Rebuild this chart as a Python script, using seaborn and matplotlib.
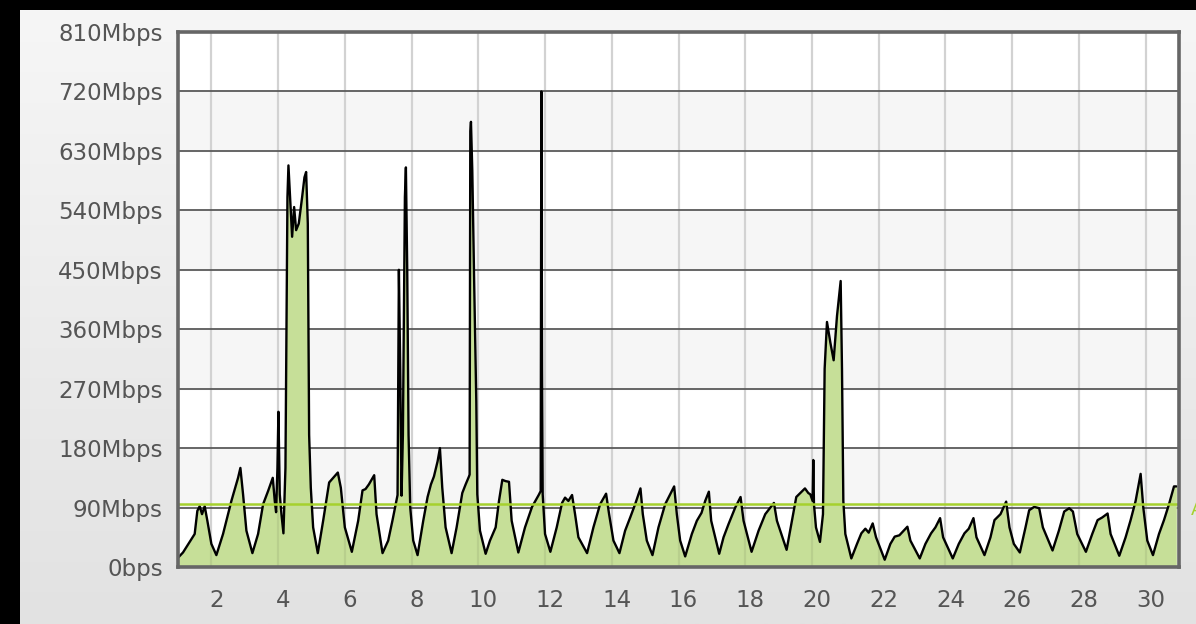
import seaborn as sns
import matplotlib.pyplot as plt
import numpy as np
from matplotlib.colors import LinearSegmentedColormap
from matplotlib.transforms import ScaledTranslation

# traffic samples: time in days of the month, rate in Mbps
t_day = [
    1.00, 1.15, 1.35, 1.50, 1.58, 1.65, 1.72, 1.80, 1.88, 2.00, 2.15,
    2.35, 2.60, 2.80, 2.87, 2.95, 3.05, 3.23,
    3.40, 3.55, 3.70, 3.84, 3.90, 3.94, 3.98, 4.01, 4.05, 4.10, 4.16,
    4.22, 4.28, 4.31, 4.36, 4.42, 4.48, 4.54, 4.62, 4.72, 4.79, 4.84, 4.89, 4.93, 4.98, 5.05, 5.19,
    5.35, 5.53, 5.65, 5.79, 5.88, 6.00, 6.21,
    6.40, 6.53, 6.62, 6.72, 6.88, 6.95, 7.13,
    7.30, 7.43, 7.58, 7.62, 7.66, 7.70, 7.74, 7.80, 7.83, 7.87, 7.91, 7.96, 8.05, 8.18,
    8.35, 8.48, 8.58, 8.67, 8.78, 8.85, 8.92, 9.02, 9.20,
    9.35, 9.52, 9.62, 9.72, 9.74, 9.76, 9.78, 9.82, 9.88, 9.94, 9.97, 10.05, 10.22,
    10.35, 10.52, 10.62, 10.72, 10.82, 10.92, 11.00, 11.20,
    11.40, 11.61, 11.81, 11.87, 11.89, 11.91, 11.93, 12.00, 12.16,
    12.35, 12.51, 12.60, 12.70, 12.81, 12.90, 13.00, 13.26,
    13.45, 13.65, 13.83, 13.92, 14.05, 14.23,
    14.40, 14.56, 14.70, 14.86, 14.93, 15.05, 15.22,
    15.40, 15.60, 15.87, 15.95, 16.05, 16.20,
    16.40, 16.55, 16.69, 16.80, 16.91, 16.98, 17.22,
    17.35, 17.50, 17.70, 17.86, 17.95, 18.19,
    18.40, 18.60, 18.86, 18.95, 19.24,
    19.40, 19.53, 19.65, 19.79, 19.89, 19.95, 20.02, 20.04, 20.06, 20.12, 20.24,
    20.33, 20.38, 20.45, 20.55, 20.65, 20.75, 20.86, 20.90, 20.94, 21.00, 21.18,
    21.35, 21.48, 21.60, 21.70, 21.82, 21.92, 22.18,
    22.35, 22.48, 22.62, 22.75, 22.86, 22.95, 23.23,
    23.40, 23.57, 23.70, 23.84, 23.93, 24.22,
    24.40, 24.57, 24.70, 24.84, 24.93, 25.17,
    25.35, 25.47, 25.65, 25.82, 25.92, 26.05, 26.23,
    26.40, 26.51, 26.66, 26.81, 26.92, 27.21,
    27.40, 27.56, 27.71, 27.82, 27.95, 28.21,
    28.40, 28.56, 28.70, 28.86, 28.95, 29.21,
    29.40, 29.55, 29.70, 29.85, 29.93, 30.05, 30.22,
    30.40, 30.55, 30.70, 30.85, 30.92,
]
rate_mbps = [
    14, 22, 38, 50, 85, 92, 80, 92, 70, 35, 18,
    50, 100, 135, 150, 110, 55, 21,
    50, 95, 115, 135, 100, 83, 150, 235, 110, 80, 51,
    150, 560, 608, 560, 500, 545, 510, 520, 560, 590, 598, 520, 200, 120, 60, 21,
    70, 128, 135, 143, 120, 60, 23,
    70, 116, 118, 125, 139, 80, 21,
    40, 71, 109, 450, 300, 108, 200, 560, 605, 450, 200, 90, 40, 18,
    70, 106, 125, 137, 160, 180, 120, 60, 21,
    60, 112, 125, 137, 140, 660, 674, 600, 420, 250, 110, 55, 20,
    40, 60, 100, 132, 130, 129, 70, 22,
    60, 91, 109, 115, 720, 300, 110, 50, 23,
    60, 97, 105, 100, 109, 80, 45, 21,
    60, 95, 111, 80, 40, 21,
    55, 76, 95, 119, 80, 40, 18,
    60, 95, 122, 80, 40, 16,
    50, 70, 82, 100, 114, 70, 20,
    45, 65, 90, 106, 70, 23,
    55, 80, 97, 70, 26,
    70, 106, 112, 119, 112, 110, 100, 162, 95, 60, 38,
    80, 300, 371, 340, 313, 380, 433, 300, 100, 50, 13,
    35, 51, 58, 52, 66, 45, 11,
    35, 46, 48, 55, 61, 40, 13,
    35, 51, 60, 74, 45, 13,
    35, 51, 58, 74, 45, 18,
    45, 71, 80, 99, 60, 35, 22,
    60, 86, 91, 89, 60, 25,
    55, 84, 89, 84, 50, 23,
    50, 71, 75, 81, 50, 17,
    45, 71, 100, 141, 90, 40, 18,
    50, 71, 95, 122, 122,
]
threshold_mbps = 95
y_ticks = list(range(0, 811, 90))
y_labels = ["0bps"] + [f"{v}Mbps" for v in y_ticks[1:]]
x_ticks = list(range(2, 31, 2))

sns.set_style("white")
plt.rcParams['font.family'] = ['DejaVu Sans']

fig = plt.figure(figsize=(11.96, 6.24), dpi=100, facecolor='black')

# light gray panel with a soft vertical gradient
bg = fig.add_axes([20 / 1196, 0, 1 - 20 / 1196, 1 - 10 / 624])
panel = LinearSegmentedColormap.from_list('panel', ['#e2e2e2', '#f6f6f6'])
bg.imshow(np.linspace(0, 1, 256).reshape(-1, 1), aspect='auto', cmap=panel, origin='lower')
bg.set_axis_off()

ax = fig.add_axes([178 / 1196, 1 - 567 / 624, (1179 - 178) / 1196, (567 - 32) / 624])
ax.set_facecolor('white')

# alternating bands
for lo in (90, 270, 450, 630):
    ax.axhspan(lo, lo + 90, color='#f6f6f6', zorder=0)
for x in x_ticks:
    ax.axvline(x, color='#d2d2d2', lw=1.6, zorder=1)
for y in y_ticks[1:-1]:
    ax.axhline(y, color='#5a5a5a', lw=1.3, zorder=1)

area = ax.fill_between(t_day, rate_mbps, 0, color='#c6df98', lw=0, zorder=2)
# faint day lines showing through the filled area only
vl = ax.vlines(x_ticks, 0, 810, color='black', alpha=0.07, lw=1.6, zorder=3)
vl.set_clip_path(area.get_paths()[0], ax.transData)

sns.lineplot(x=t_day, y=rate_mbps, color='black', lw=1.7, estimator=None,
             sort=False, ax=ax, zorder=4, solid_joinstyle='round')
ax.axhline(threshold_mbps, color='#a6d12e', lw=1.8, zorder=5)
fig.text(1191 / 1196, 1 - 515 / 624, "Avg", color='#a6d12e', fontsize=13)

ax.set_xlim(1, 31)
ax.set_ylim(0, 810)
ax.set_yticks(y_ticks)
ax.set_yticklabels(y_labels)
ax.set_xticks(x_ticks)
ax.set_xticklabels([str(x) for x in x_ticks])
ax.tick_params(axis='both', length=0, labelsize=16.5, labelcolor='#555555')
ax.tick_params(axis='y', pad=11)
ax.tick_params(axis='x', pad=16)
for lab in ax.get_xticklabels():
    lab.set_transform(lab.get_transform() + ScaledTranslation(5 / 100, 0, fig.dpi_scale_trans))
for s in ax.spines.values():
    s.set_color('#666666')
    s.set_linewidth(2.6)
    s.set_zorder(6)

fig.savefig('out.png', dpi=100, facecolor='black')
